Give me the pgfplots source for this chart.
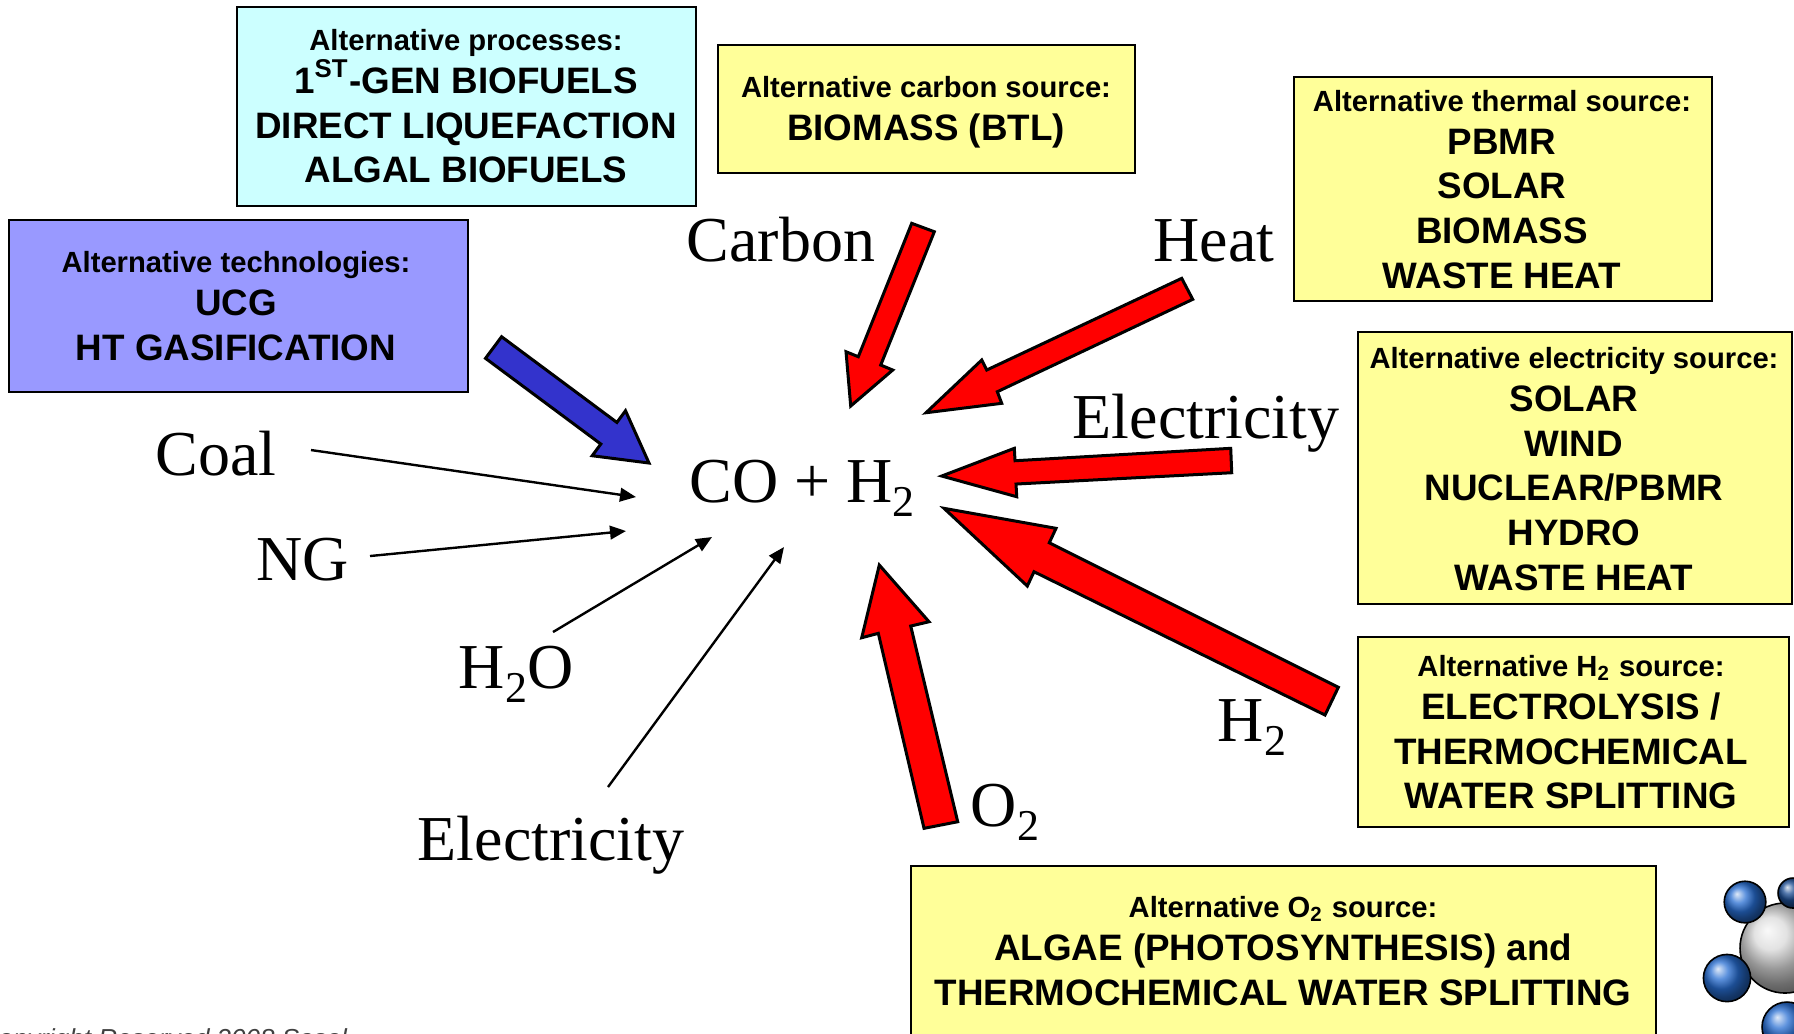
\documentclass[border=0pt]{standalone}
\usepackage{pgfplots}
\pgfplotsset{compat=1.18}
\usetikzlibrary{arrows.meta}
\usepackage{fontspec}
\setmainfont{Liberation Serif}
\newfontfamily\arial{Liberation Sans}

\definecolor{boxyellow}{HTML}{FFFF99}
\definecolor{boxcyan}{HTML}{CCFFFF}
\definecolor{boxviolet}{HTML}{9999FF}
\definecolor{arrowblue}{HTML}{3333CC}
\definecolor{arrowred}{HTML}{FF0000}
\definecolor{logoblue}{RGB}{40,110,210}

\tikzset{
  hd/.style={anchor=base, inner sep=0pt, font=\arial\bfseries\fontsize{7.3}{8}\selectfont},
  big/.style={anchor=base, inner sep=0pt, font=\arial\bfseries\fontsize{9.2}{10}\selectfont},
  lbl/.style={anchor=base, inner sep=0pt, font=\fontsize{16}{18}\selectfont},
}
% lowered subscript for the big serif labels
\newcommand\lsub[1]{\raisebox{-0.22em}{\fontsize{11}{11}\selectfont #1}}

\begin{document}
\begin{tikzpicture}
\useasboundingbox (0,0) rectangle (448.5pt,258.25pt);
\clip (0,0) rectangle (448.5pt,258.25pt);
\begin{axis}[
  at={(0,0)}, anchor=south west,
  scale only axis, width=448.5pt, height=258.25pt,
  xmin=0, xmax=1794, ymin=0, ymax=1033, y dir=reverse,
  hide axis, clip=false,
  box/.style={draw=black, line width=0.6pt},
  block/.style={draw=black, line width=0.75pt, line join=miter},
  thin/.style={black, line width=0.6pt, -{Triangle[length=4pt,width=3.4pt]}},
]
% --- boxes
\addplot[box, fill=boxcyan]   coordinates {(237,7)(696,7)(696,206)(237,206)} -- cycle;
\addplot[box, fill=boxyellow] coordinates {(718,45)(1135,45)(1135,173)(718,173)} -- cycle;
\addplot[box, fill=boxyellow] coordinates {(1294,77)(1712,77)(1712,301)(1294,301)} -- cycle;
\addplot[box, fill=boxviolet] coordinates {(9,220)(468,220)(468,392)(9,392)} -- cycle;
\addplot[box, fill=boxyellow] coordinates {(1358,332)(1792,332)(1792,604)(1358,604)} -- cycle;
\addplot[box, fill=boxyellow] coordinates {(1358,637)(1789,637)(1789,827)(1358,827)} -- cycle;
\addplot[box, fill=boxyellow] coordinates {(911,866)(1656,866)(1656,1045)(911,1045)} -- cycle;

% --- block arrows
\addplot[block, fill=arrowblue] coordinates {(485.5,358.3)(600.8,444.0)(592.2,455.7)(649,463)(625.5,410.7)(616.9,422.4)(501.6,336.7)} -- cycle;
\addplot[block, fill=arrowred] coordinates {(911.7,223.3)(934.3,231.7)(880.7,365)(892.7,370)(850.7,406)(846,351.7)(858.3,356.7)} -- cycle;
\addplot[block, fill=arrowred] coordinates {(1181.7,278.3)(986.7,370)(981.7,360)(926,412.7)(1001.7,403.3)(997.3,391.7)(1192.7,299.3)} -- cycle;
\addplot[block, fill=arrowred] coordinates {(1230.7,448.3)(1015,460.7)(1014.3,448.3)(941.7,476)(1016.7,496.7)(1016,484)(1231.7,472.7)} -- cycle;
\addplot[block, fill=arrowred] coordinates {(1338.3,687.3)(1049.3,542.7)(1056,528.3)(944,508.3)(1027.3,586)(1034,571.7)(1325,715)} -- cycle;
\addplot[block, fill=arrowred] coordinates {(957.7,821.7)(910.7,626)(929,621.7)(879.3,565)(861.7,637.7)(878.3,633.3)(924,828.3)} -- cycle;

% --- thin arrows
\addplot[thin] coordinates {(311,450)(636,497)};
\addplot[thin] coordinates {(370,556)(626,531)};
\addplot[thin] coordinates {(553,632)(712,537)};
\addplot[thin] coordinates {(608,787)(784,547)};

% --- logo (partly off the page)
\addplot[only marks, mark=ball, mark size=11.25pt, mark options={ball color=white!85!black}] coordinates {(1785,948)};
\addplot[only marks, mark=ball, mark size=3.75pt, mark options={ball color=logoblue!70!black}] coordinates {(1793,893)};
\addplot[only marks, mark=ball, mark size=5.2pt, mark options={ball color=logoblue}] coordinates {(1745,902)};
\addplot[only marks, mark=ball, mark size=5.9pt, mark options={ball color=logoblue}] coordinates {(1727,978)};
\addplot[only marks, mark=ball, mark size=6.25pt, mark options={ball color=logoblue}] coordinates {(1787,1027)};

% --- box texts
\node[hd]  at (axis cs:466,50)  {Alternative processes:};
\node[big] at (axis cs:466,93)  {1\textsuperscript{ST}-GEN BIOFUELS};
\node[big] at (axis cs:466,138) {DIRECT LIQUEFACTION};
\node[big] at (axis cs:466,182) {ALGAL BIOFUELS};

\node[hd]  at (axis cs:926,97)  {Alternative carbon source:};
\node[big] at (axis cs:926,140) {BIOMASS (BTL)};

\node[hd]  at (axis cs:1502,111) {Alternative thermal source:};
\node[big] at (axis cs:1502,154) {PBMR};
\node[big] at (axis cs:1502,198) {SOLAR};
\node[big] at (axis cs:1502,243) {BIOMASS};
\node[big] at (axis cs:1502,288) {WASTE HEAT};

\node[hd]  at (axis cs:236,272) {Alternative technologies:};
\node[big] at (axis cs:236,315) {UCG};
\node[big] at (axis cs:236,360) {HT GASIFICATION};

\node[hd]  at (axis cs:1574,368) {Alternative electricity source:};
\node[big] at (axis cs:1574,411) {SOLAR};
\node[big] at (axis cs:1574,456) {WIND};
\node[big] at (axis cs:1574,500) {NUCLEAR/PBMR};
\node[big] at (axis cs:1574,545) {HYDRO};
\node[big] at (axis cs:1574,590) {WASTE HEAT};

\node[hd]  at (axis cs:1571,676) {Alternative H\textsubscript{2} source:};
\node[big] at (axis cs:1571,719) {ELECTROLYSIS /};
\node[big] at (axis cs:1571,764) {THERMOCHEMICAL};
\node[big] at (axis cs:1571,808) {WATER SPLITTING};

\node[hd]  at (axis cs:1283,917)  {Alternative O\textsubscript{2} source:};
\node[big] at (axis cs:1283,960)  {ALGAE (PHOTOSYNTHESIS) and};
\node[big] at (axis cs:1283,1005) {THERMOCHEMICAL WATER SPLITTING};

% --- labels
\node[lbl] at (axis cs:781,261)  {Carbon};
\node[lbl] at (axis cs:1214,261) {Heat};
\node[lbl] at (axis cs:1206,438) {Electricity};
\node[lbl] at (axis cs:216,475)  {Coal};
\node[lbl] at (axis cs:303,580)  {NG};
\node[lbl] at (axis cs:516,688)  {H\lsub{2}O};
\node[lbl] at (axis cs:551,860)  {Electricity};
\node[lbl] at (axis cs:802,502)  {CO + H\lsub{2}};
\node[lbl] at (axis cs:1252,741) {H\lsub{2}};
\node[lbl] at (axis cs:1005,826) {O\lsub{2}};

\node[anchor=base west, inner sep=0pt, font=\arial\itshape\fontsize{6.5}{7}\selectfont, text=black!75]
  at (axis cs:-21,1047) {Copyright Reserved 2008 Sasol};
\end{axis}
\end{tikzpicture}
\end{document}
